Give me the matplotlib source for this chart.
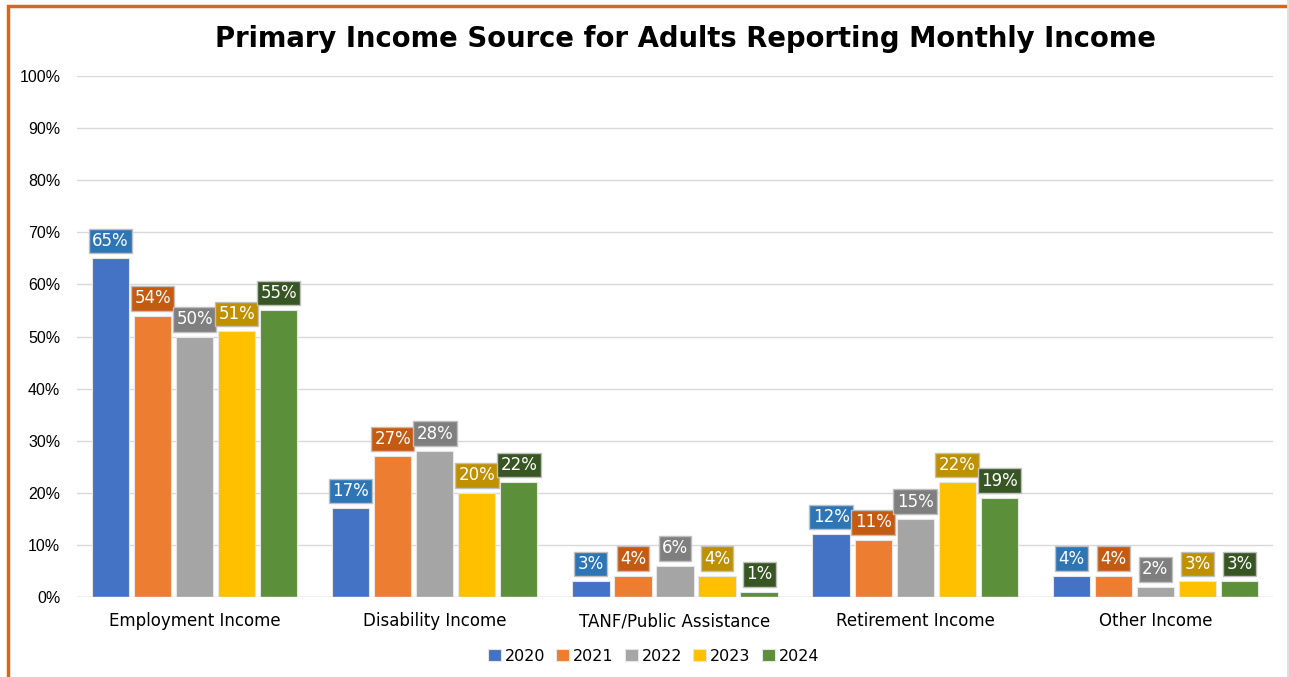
import numpy as np
from matplotlib import pyplot as plt
from matplotlib.patches import Rectangle

categories = ['Employment Income', 'Disability Income', 'TANF/Public Assistance',
              'Retirement Income', 'Other Income']
years = ['2020', '2021', '2022', '2023', '2024']
values = {
    '2020': [65, 17, 3, 12, 4],
    '2021': [54, 27, 4, 11, 4],
    '2022': [50, 28, 6, 15, 2],
    '2023': [51, 20, 4, 22, 3],
    '2024': [55, 22, 1, 19, 3],
}
bar_colors = ['#4472C4', '#ED7D31', '#A5A5A5', '#FFC000', '#5B8F3A']
label_colors = ['#2E75B6', '#C55A11', '#7F7F7F', '#BF9000', '#375623']

fig = plt.figure(figsize=(12.89, 6.77), dpi=100)
ax = fig.add_axes([0.0597, 0.1182, 0.9279, 0.7695])

x = np.arange(len(categories))
width = 0.155
step = 0.175

for i, yr in enumerate(years):
    pos = x + (i - 2) * step
    bars = ax.bar(pos, values[yr], width, color=bar_colors[i],
                  edgecolor='#E6E6E6', linewidth=0.8, zorder=3, label=yr)
    for b, v in zip(bars, values[yr]):
        ax.annotate('%d%%' % v, (b.get_x() + b.get_width() / 2, v),
                    xytext=(0, 6), textcoords='offset points',
                    ha='center', va='bottom', color='white', fontsize=12,
                    family='DejaVu Sans', zorder=5,
                    bbox=dict(boxstyle='square,pad=0.2', fc=label_colors[i],
                              ec='#BFBFBF', lw=1))

ax.set_xlim(-0.49, 4.49)
ax.set_ylim(0, 100)
ax.set_yticks(range(0, 101, 10))
ax.set_yticklabels(['%d%%' % t for t in range(0, 101, 10)],
                   family='Liberation Sans', fontsize=11.5)
ax.set_xticks(x)
ax.set_xticklabels(categories, family='DejaVu Sans', fontsize=12)
ax.tick_params(length=0, pad=12)
ax.tick_params(axis='x', pad=11)
ax.grid(axis='y', color='#D9D9D9', lw=1, zorder=0)
for s in ax.spines.values():
    s.set_visible(False)
ax.axhline(0, color='#D9D9D9', lw=1, zorder=4)

fig.text(0.532, 0.943, 'Primary Income Source for Adults Reporting Monthly Income',
         ha='center', va='center', fontsize=19.8, fontweight='bold', family='DejaVu Sans')

fig.legend(loc='center', bbox_to_anchor=(0.507, 0.031), ncol=5, frameon=False,
           handlelength=0.8, handleheight=0.8, handletextpad=0.25,
           columnspacing=0.7, prop={'family': 'DejaVu Sans', 'size': 11.5})

# orange frame (left and top edges visible in the crop)
fig.patches.append(Rectangle((8 / 1289, -0.05), 1.2, 1.05 - 6 / 677,
                             transform=fig.transFigure, fill=False,
                             ec='#D9661F', lw=2.5))
fig.patches.append(Rectangle((1287 / 1289, 0), 0.01, 1, transform=fig.transFigure,
                             fc='#E0E0E0', ec='none'))

fig.savefig('out.png', dpi=100)
